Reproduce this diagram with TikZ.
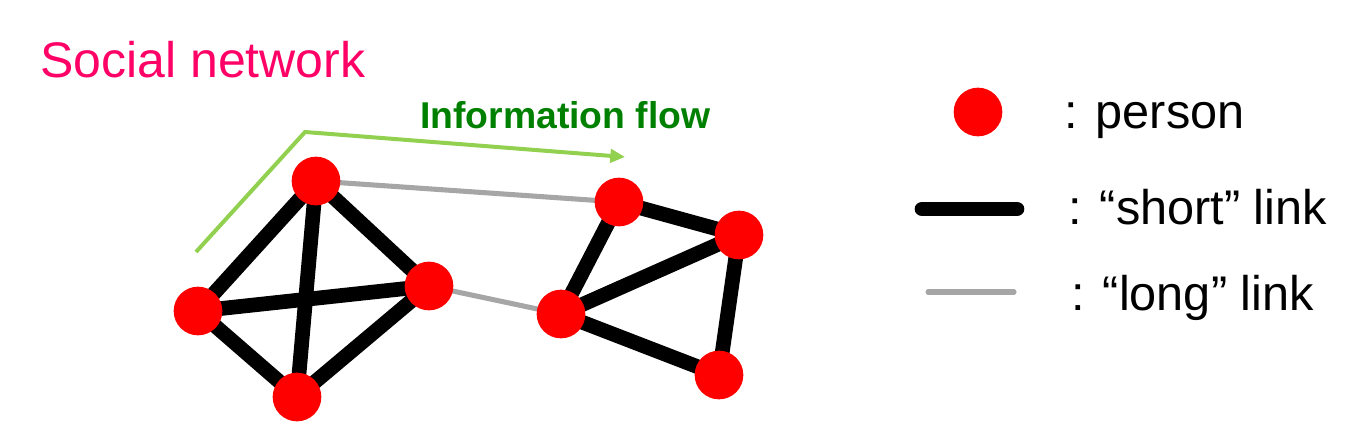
\documentclass[tikz,border=0pt]{standalone}
\usepackage{fontspec}
\setmainfont{Liberation Sans}
\usetikzlibrary{arrows.meta,backgrounds}
\definecolor{pink}{HTML}{FF0066}
\definecolor{flowgreen}{HTML}{92D050}
\definecolor{txtgreen}{HTML}{008000}
\definecolor{longgray}{HTML}{A6A6A6}
\begin{document}
\begin{tikzpicture}[x=0.75pt,y=-0.75pt,
  person/.style={circle,fill=red,inner sep=0pt,minimum size=36.5pt},
  shortlink/.style={line width=11pt,black},
  longlink/.style={line width=3.8pt,longgray},
  lbl/.style={anchor=base west,inner sep=0pt,font=\fontsize{36.5}{40}\selectfont}]
\useasboundingbox (0,0) rectangle (1357,447);
% title
\node[anchor=base west,inner sep=0pt,text=pink,font=\fontsize{37.5}{40}\selectfont] (title) at (40,77) {Social network};
% persons
\node[person] (a) at (316,181) {};
\node[person] (b) at (198,311) {};
\node[person] (c) at (429,286) {};
\node[person] (d) at (297,397) {};
\node[person] (e) at (619,202) {};
\node[person] (f) at (739,235) {};
\node[person] (g) at (561,314) {};
\node[person] (h) at (719,375) {};
\begin{pgfonlayer}{background}
\draw[longlink] (a.center) -- (e.center);
\draw[longlink] (c.center) -- (g.center);
\draw[shortlink] (a.center) -- (b.center);
\draw[shortlink] (a.center) -- (c.center);
\draw[shortlink] (a.center) -- (d.center);
\draw[shortlink] (b.center) -- (c.center);
\draw[shortlink] (b.center) -- (d.center);
\draw[shortlink] (c.center) -- (d.center);
\draw[shortlink] (e.center) -- (f.center);
\draw[shortlink] (e.center) -- (g.center);
\draw[shortlink] (f.center) -- (g.center);
\draw[shortlink] (f.center) -- (h.center);
\draw[shortlink] (g.center) -- (h.center);
\end{pgfonlayer}
% information flow
\coordinate (fs) at (196,252);
\coordinate (fk) at (305,132);
\coordinate (fe) at (625,157);
\draw[flowgreen,line width=3pt,-{Triangle[length=11pt,width=10pt]}] (fs) -- (fk) -- (fe);
\node[anchor=base west,inner sep=0pt,text=txtgreen,font=\bfseries\fontsize{28}{30}\selectfont] (flow) at (420,128) {Information flow};
% legend
\node[person] (lp) at (978,112) {};
\node[lbl] (lpt) at (1064,128) {: person};
\coordinate (ls1) at (922,209);
\coordinate (ls2) at (1017,209);
\draw[shortlink,line cap=round] (ls1) -- (ls2);
\node[lbl] (lst) at (1068,224) {: “short” link};
\coordinate (ll1) at (928,292);
\coordinate (ll2) at (1014,292);
\draw[longlink,line cap=round] (ll1) -- (ll2);
\node[lbl] (llt) at (1071,310) {: “long” link};
\end{tikzpicture}
\end{document}
